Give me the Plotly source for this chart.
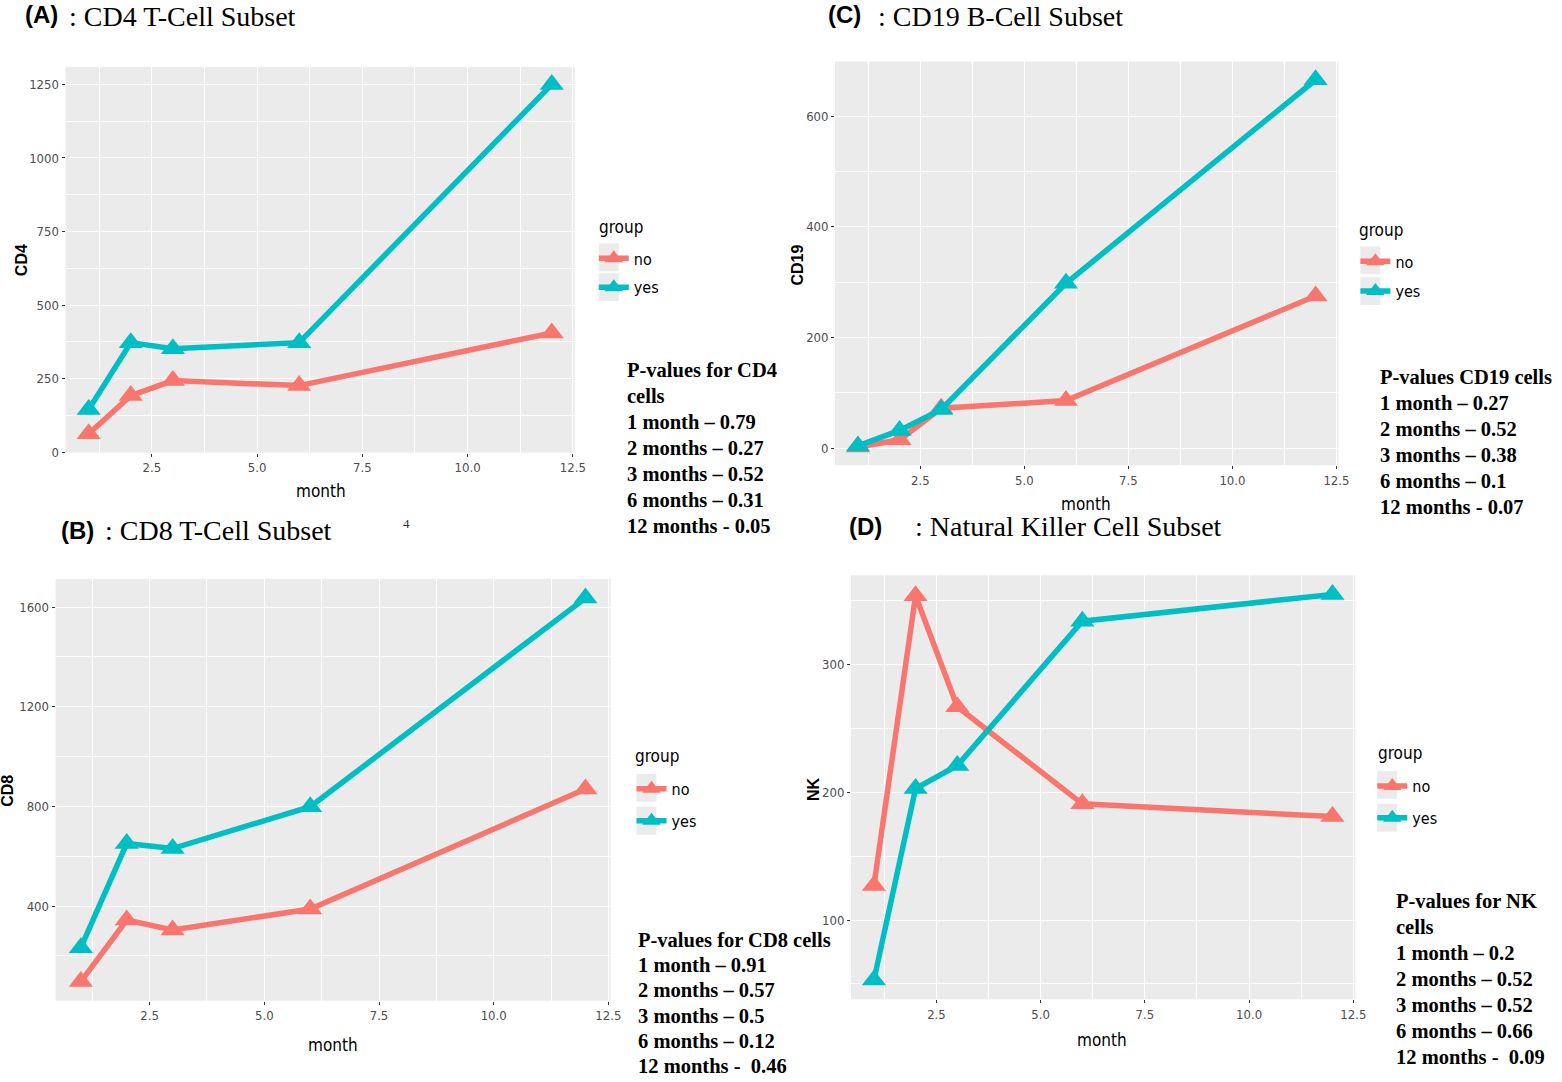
import plotly.graph_objects as go

months = [1, 2, 3, 6, 12]

# Panel A: CD4
cd4_no = [62, 192, 243, 226, 405]
cd4_yes = [145, 372, 351, 372, 1250]
# Panel B: CD8
cd8_no = [97, 344, 304, 388, 870]
cd8_yes = [233, 651, 631, 799, 1636]
# Panel C: CD19
cd19_no = [2, 15, 72, 86, 275]
cd19_yes = [4, 32, 70, 298, 666]
# Panel D: NK
nk_no = [127, 354, 267, 191, 181]
nk_yes = [53, 203, 221, 334, 355]

pvals_a = ["P-values for CD4", "cells", "1 month \u2013 0.79", "2 months \u2013 0.27",
           "3 months \u2013 0.52", "6 months \u2013 0.31", "12 months - 0.05"]
pvals_b = ["P-values for CD8 cells", "1 month \u2013 0.91", "2 months \u2013 0.57",
           "3 months \u2013 0.5", "6 months \u2013 0.12", "12 months -  0.46"]
pvals_c = ["P-values CD19 cells", "1 month \u2013 0.27", "2 months \u2013 0.52",
           "3 months \u2013 0.38", "6 months \u2013 0.1", "12 months - 0.07"]
pvals_d = ["P-values for NK", "cells", "1 month \u2013 0.2", "2 months \u2013 0.52",
           "3 months \u2013 0.52", "6 months \u2013 0.66", "12 months -  0.09"]

W, H = 1562, 1082
RED = "#F8766D"
TEAL = "#00BFC4"
NARROW = "Liberation Sans Narrow, DejaVu Sans Condensed, Liberation Sans, Arial, sans-serif"
SERIF = "Liberation Serif, Times New Roman, serif"
SANS = "Liberation Sans, Arial, sans-serif"


def px(x):
    return x / W


def py(y):
    return 1 - y / H


# (axis suffix, x pixel domain, y pixel domain, y range, y dtick, no, yes, legend)
panels = [
    ("", (66, 579), (67.5, 455.6), (-2, 1309), 250, cd4_no, cd4_yes, "legend"),
    ("2", (841, 1348), (61.9, 468.3), (-31, 699), 200, cd19_no, cd19_yes, "legend2"),
    ("3", (56, 615), (582.7, 1007.3), (20, 1713), 400, cd8_no, cd8_yes, "legend3"),
    ("4", (857, 1365), (579, 1005.7), (38, 370), 100, nk_no, nk_yes, "legend4"),
]

# legend geometry: key centre x, "no" row y, "yes" row y, title x, title y
legend_geo = {
    "legend": (613, 259, 289, 602, 228),
    "legend2": (1380, 262, 293, 1368, 231),
    "legend3": (651, 793, 826, 638, 761),
    "legend4": (1397, 790, 823, 1387, 758),
}

fig = go.Figure()
layout = dict(
    width=W, height=H,
    margin=dict(l=0, r=0, t=0, b=0),
    paper_bgcolor="white",
    plot_bgcolor="#EBEBEB",
    showlegend=True,
)
shapes = []
ann = []


def add_text(x, y, text, family, size, bold=False, color="black", angle=0, xanchor="left", yanchor="middle"):
    t = "<b>%s</b>" % text if bold else text
    ann.append(dict(x=px(x), y=py(y), xref="paper", yref="paper", text=t, showarrow=False,
                    font=dict(family=family, size=size, color=color), textangle=angle,
                    xanchor=xanchor, yanchor=yanchor, borderpad=0))


for suf, (x0, x1), (y0, y1), yr, ydt, no, yes, lg in panels:
    xa = "x" + suf
    ya = "y" + suf
    for name, vals, col in (("no", no, RED), ("yes", yes, TEAL)):
        fig.add_trace(go.Scatter(
            x=months, y=vals, name=name, mode="lines+markers",
            line=dict(color=col, width=5.5),
            marker=dict(symbol="triangle-up", size=21, color=col),
            xaxis=xa, yaxis=ya, legend=lg, legendgroup=lg + name,
        ))
    tickfont = dict(family=NARROW, size=13, color="#4D4D4D")
    layout["xaxis" + suf] = dict(
        domain=[px(x0), px(x1)], anchor=ya, range=[0.45, 12.55],
        tick0=0, dtick=2.5, tickformat=".1f",
        showgrid=True, gridcolor="white", gridwidth=1.4,
        minor=dict(tick0=0, dtick=1.25, showgrid=True, gridcolor="white", gridwidth=0.7),
        zeroline=False, showline=False,
        ticks="outside", ticklen=3, tickcolor="#333333", tickwidth=1,
        tickfont=tickfont,
    )
    layout["yaxis" + suf] = dict(
        domain=[py(y1), py(y0)], anchor=xa, range=list(yr),
        tick0=0, dtick=ydt,
        showgrid=True, gridcolor="white", gridwidth=1.4,
        minor=dict(tick0=0, dtick=ydt / 2, showgrid=True, gridcolor="white", gridwidth=0.7),
        zeroline=False, showline=False,
        ticks="outside", ticklen=3, tickcolor="#333333", tickwidth=1,
        tickfont=tickfont,
    )
    kc, yn, yy, tx, ty = legend_geo[lg]
    layout[lg] = dict(
        x=px(kc - 15), y=py(yn - 16), xanchor="left", yanchor="top",
        xref="paper", yref="paper",
        font=dict(family=NARROW, size=16, color="black"),
        bgcolor="rgba(0,0,0,0)", tracegroupgap=yy - yn - 25, itemwidth=30,
    )
    add_text(tx, ty, "group", NARROW, 17)
    for yc in (yn, yy):
        shapes.append(dict(type="rect", xref="paper", yref="paper",
                           x0=px(kc - 10), x1=px(kc + 10), y0=py(yc + 14), y1=py(yc - 14),
                           fillcolor="#EBEBEB", line=dict(width=0), layer="below"))

fig.update_layout(**layout)

# panel titles: (label x, y, label, colon-text x, text, yanchor)
titles = [
    (24, 0, "(A)", 68, ": CD4 T-Cell Subset", "top"),
    (833, 0, "(C)", 883, ": CD19 B-Cell Subset", "top"),
    (60, 534, "(B)", 105, ": CD8 T-Cell Subset", "middle"),
    (854, 530, "(D)", 920, ": Natural Killer Cell Subset", "middle"),
]
for x, y, lab, x2, txt, ya in titles:
    add_text(x, y, lab, SANS, 24, bold=True, yanchor=ya)
    add_text(x2, y, txt, SERIF, 28, yanchor=ya)

# axis titles
for x, y, t in ((323, 494, "month"), (1094, 507, "month"), (335, 1052, "month"), (1110, 1047, "month")):
    add_text(x, y, t, NARROW, 17, xanchor="center")
for x, y, t in ((21, 262, "CD4"), (803, 267, "CD19"), (8, 796, "CD8"), (820, 794, "NK")):
    add_text(x, y, t, SANS, 16, bold=True, angle=-90, xanchor="center")

# stray label from source layout
add_text(409, 527, "4", SERIF, 13, color="#333333", xanchor="center")

# p-value blocks: (x, first line y, line step, lines)
for x, y0, step, lines in ((630, 372, 26.2, pvals_a), (1389, 379, 26.2, pvals_c),
                           (642, 946, 25.4, pvals_b), (1405, 907, 26.2, pvals_d)):
    for i, line in enumerate(lines):
        add_text(x, y0 + i * step, line, SERIF, 20.5, bold=True)

fig.update_layout(annotations=ann, shapes=shapes)
fig.write_html(
    "out.html",
    config={"displayModeBar": False},
    post_script="document.body.style.margin='0px';document.body.style.overflow='hidden';"
                "document.documentElement.style.overflow='hidden';",
)
